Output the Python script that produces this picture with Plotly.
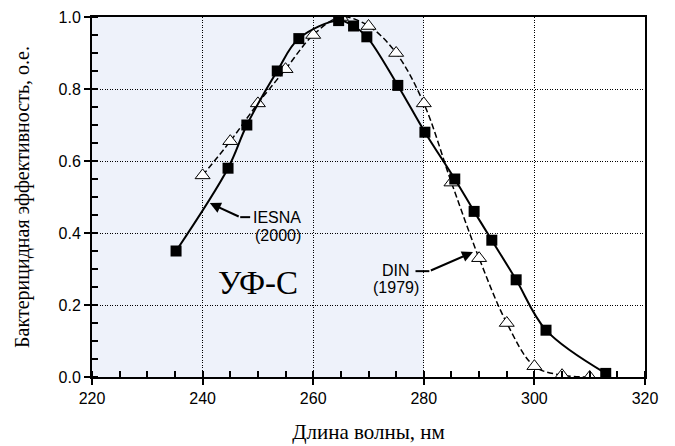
import plotly.graph_objects as go

# IESNA (2000) – filled squares
iesna_x = [235.2, 244.6, 248.0, 253.5, 257.4, 264.6, 267.3, 269.7, 275.3, 280.2, 285.6, 289.1, 292.3, 296.7, 302.1, 312.9]
iesna_y = [0.35, 0.58, 0.70, 0.85, 0.94, 0.99, 0.975, 0.945, 0.81, 0.68, 0.55, 0.46, 0.38, 0.27, 0.13, 0.01]

# DIN (1979) – open triangles
din_x = [240.0, 245.0, 250.0, 255.0, 260.0, 265.0, 270.0, 275.0, 280.0, 285.0, 290.0, 295.0, 300.0, 305.0, 310.0]
din_y = [0.56, 0.655, 0.76, 0.855, 0.95, 1.0, 0.975, 0.90, 0.76, 0.54, 0.33, 0.15, 0.03, 0.005, 0.0]

x_ticks = [220, 240, 260, 280, 300, 320]
y_ticks = [0.0, 0.2, 0.4, 0.6, 0.8, 1.0]
y_tick_labels = ["0.0", "0.2", "0.4", "0.6", "0.8", "1.0"]

SANS = "Liberation Sans, Arial, sans-serif"
SERIF = "Liberation Serif, Times New Roman, serif"

fig = go.Figure()

fig.add_trace(go.Scatter(
    x=din_x, y=din_y, mode="lines+markers",
    line=dict(color="black", width=1.5, dash="6px,3px", shape="spline", smoothing=1.0),
    marker=dict(symbol="triangle-up", size=13, color="white", line=dict(color="black", width=1)),
    name="DIN (1979)", showlegend=False,
))
fig.add_trace(go.Scatter(
    x=iesna_x, y=iesna_y, mode="lines+markers",
    line=dict(color="black", width=2, shape="spline", smoothing=1.0),
    marker=dict(symbol="square", size=11, color="black"),
    name="IESNA (2000)", showlegend=False,
))

# UV-C shaded band
fig.add_shape(type="rect", xref="x", yref="y", x0=220, x1=280, y0=0, y1=1,
              fillcolor="#EEF2FA", line=dict(width=0), layer="below")

# annotation leader lines
fig.add_shape(type="line", xref="x", yref="y", x0=246.8, x1=248.6, y0=0.444, y1=0.444,
              line=dict(color="black", width=2))
fig.add_annotation(x=241.3, y=0.483, ax=246.8, ay=0.444, axref="x", ayref="y",
                   xref="x", yref="y", text="", showarrow=True,
                   arrowhead=2, arrowsize=1.1, arrowwidth=2, arrowcolor="black")
fig.add_shape(type="line", xref="x", yref="y", x0=278.5, x1=281.0, y0=0.294, y1=0.294,
              line=dict(color="black", width=2))
fig.add_annotation(x=288.9, y=0.347, ax=281.0, ay=0.294, axref="x", ayref="y",
                   xref="x", yref="y", text="", showarrow=True,
                   arrowhead=2, arrowsize=1.1, arrowwidth=2, arrowcolor="black")

label_font = dict(family=SANS, size=16, color="black")
fig.add_annotation(x=253.5, y=0.442, xref="x", yref="y", text="IESNA",
                   showarrow=False, xanchor="center", yanchor="middle", font=label_font)
fig.add_annotation(x=253.6, y=0.394, xref="x", yref="y", text="(2000)",
                   showarrow=False, xanchor="center", yanchor="middle", font=label_font)
fig.add_annotation(x=275.0, y=0.297, xref="x", yref="y", text="DIN",
                   showarrow=False, xanchor="center", yanchor="middle", font=label_font)
fig.add_annotation(x=275.0, y=0.25, xref="x", yref="y", text="(1979)",
                   showarrow=False, xanchor="center", yanchor="middle", font=label_font)
fig.add_annotation(x=250.0, y=0.26, xref="x", yref="y", text="УФ-С",
                   showarrow=False, xanchor="center", yanchor="middle",
                   font=dict(family=SERIF, size=33, color="black"))

fig.update_xaxes(
    range=[220, 320], tickvals=x_ticks, ticks="outside", ticklen=6, tickwidth=1.5,
    tickcolor="black", showline=True, linecolor="black", linewidth=2, mirror=True,
    showgrid=True, gridcolor="black", gridwidth=1, griddash="1px,1.5px",
    zeroline=False, tickfont=dict(family=SANS, size=16, color="black"),
    minor=dict(dtick=5, ticks="inside", ticklen=6, tickwidth=1.5, tickcolor="black", showgrid=False),
    title=dict(text="Длина волны, нм", font=dict(family=SERIF, size=21, color="black"), standoff=18),
    automargin=False,
)
fig.update_yaxes(
    range=[0, 1], tickvals=y_ticks, ticktext=y_tick_labels, ticks="outside", ticklen=6, tickwidth=1.5,
    tickcolor="black", showline=True, linecolor="black", linewidth=2, mirror=True,
    showgrid=True, gridcolor="black", gridwidth=1, griddash="1px,1.5px",
    zeroline=False, tickfont=dict(family=SANS, size=16, color="black"),
    minor=dict(dtick=0.05, ticks="inside", ticklen=6, tickwidth=1.5, tickcolor="black", showgrid=False),
    title=dict(text="Бактерицидная эффективность, о.е.", font=dict(family=SERIF, size=20, color="black"), standoff=24),
    automargin=False,
)

# the page body adds an 8px offset, so the figure is sized to fit the 675x446 window
fig.update_layout(
    width=667, height=438,
    margin=dict(l=84, r=30, t=9, b=69),
    paper_bgcolor="white", plot_bgcolor="white",
    showlegend=False,
)

fig.write_html("out.html")
